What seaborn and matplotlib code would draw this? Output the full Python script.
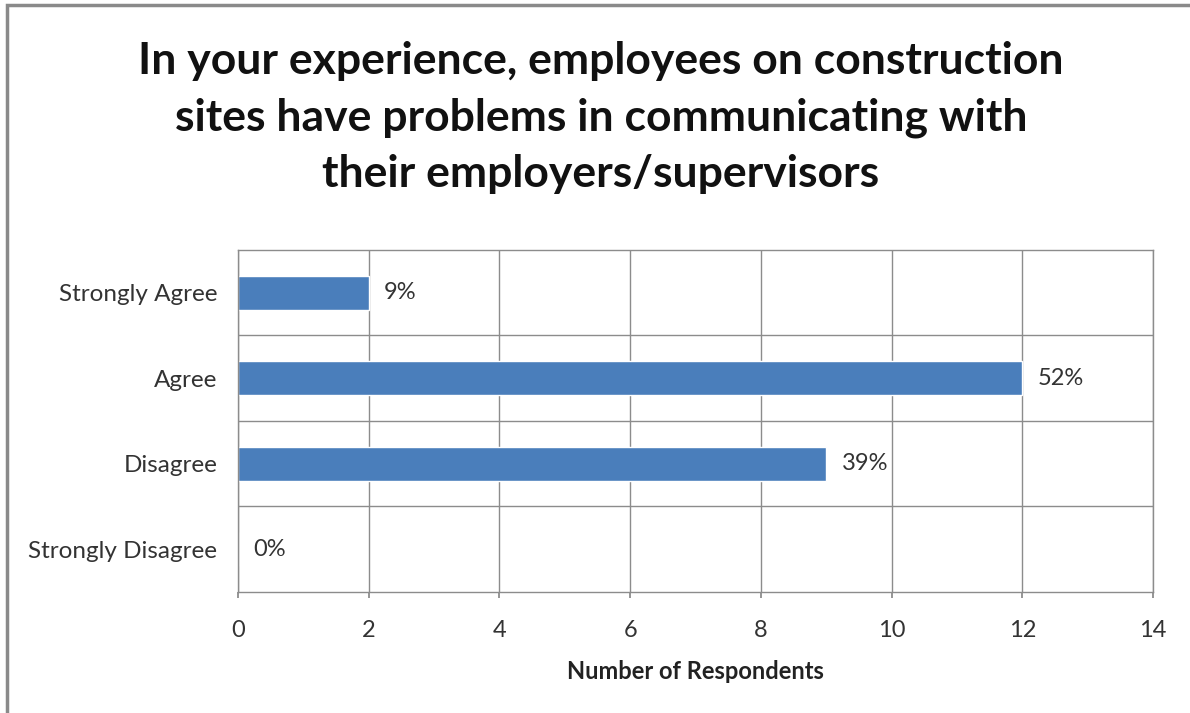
import matplotlib
matplotlib.use("Agg")
import matplotlib.pyplot as plt
import seaborn as sns
import pandas as pd
from matplotlib.patches import Rectangle

# Dados
categories = ["Strongly Agree", "Agree", "Disagree", "Strongly Disagree"]
respondents = [2, 12, 9, 0]
pct_labels = ["9%", "52%", "39%", "0%"]
x_ticks = [0, 2, 4, 6, 8, 10, 12, 14]

df = pd.DataFrame({"category": categories, "respondents": respondents})

sns.set_theme(style="white")
plt.rcParams["font.family"] = ["Lato", "DejaVu Sans"]

fig = plt.figure(figsize=(11.9, 7.13), dpi=100)
ax = fig.add_axes([0.2, 0.1697, 0.7689, 0.4797])

sns.barplot(data=df, x="respondents", y="category", color="#4a7ebb",
            width=0.4, saturation=1, ax=ax, orient="h")

ax.set_xlim(0, 14)
ax.set_ylim(3.5, -0.5)
ax.set_xticks(x_ticks)
ax.set_xticklabels([str(t) for t in x_ticks], fontsize=17, color="#333333")
ax.tick_params(axis="y", labelsize=17.5, colors="#333333", length=0, pad=15)
ax.tick_params(axis="x", length=4, color="#888888", pad=16, bottom=True)

# Grelha: linhas verticais nos ticks, horizontais entre categorias
for t in x_ticks:
    ax.axvline(t, color="#8c8c8c", lw=1, zorder=0)
for b in [0.5, 1.5, 2.5]:
    ax.axhline(b, color="#8c8c8c", lw=1, zorder=0)
for s in ax.spines.values():
    s.set_color("#8c8c8c")
    s.set_linewidth(1)

# Rótulos de percentagem
for i, (v, lab) in enumerate(zip(respondents, pct_labels)):
    ax.annotate(lab, (v, i), xytext=(11, 0), textcoords="offset points",
                va="center", ha="left", fontsize=17, color="#333333")

ax.set_ylabel("")
ax.set_xlabel("Number of Respondents", fontsize=17, fontweight="bold",
              color="#222222", labelpad=14)

fig.text(0.505, 0.835, "In your experience, employees on construction\n"
         "sites have problems in communicating with\n"
         "their employers/supervisors",
         ha="center", va="center", fontsize=32, fontweight="bold",
         linespacing=1.5, color="#111111")

# Moldura do gráfico
fig.patches.append(Rectangle((7 / 1190, -0.05), 1.2, 1 - 5 / 713 + 0.05,
                             transform=fig.transFigure, fill=False,
                             edgecolor="#8a8a8a", lw=2.5))

fig.savefig("out.png", dpi=100)
